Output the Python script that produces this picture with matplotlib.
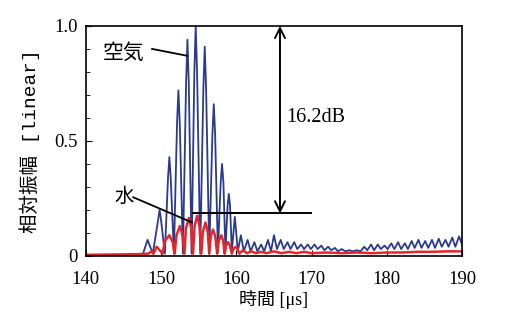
import matplotlib.pyplot as plt
from matplotlib.ticker import MultipleLocator

plt.rcParams['font.family'] = ['Liberation Serif', 'Noto Sans CJK JP']

# 空気 (air) trace: peaks, shoulders and troughs
air_t = [140.0, 146.5, 147.6, 148.2, 148.9, 149.62, 149.8, 149.98, 150.5, 150.92, 151.1,
         151.28, 151.7, 152.12, 152.3, 152.48, 152.9, 153.32, 153.5, 153.68, 154.05,
         154.42, 154.6, 154.78, 155.2, 155.62, 155.8, 155.98, 156.4, 156.82, 157.0,
         157.18, 157.55, 157.92, 158.1, 158.28, 158.55, 158.84, 159.0, 159.16, 159.4,
         159.8, 160.2, 160.6, 161.0, 161.5, 161.9, 162.4, 162.8, 163.3, 163.7,
         164.2, 164.6, 165.0, 165.4, 165.9, 166.3, 166.8, 167.2, 167.7, 168.1, 168.6,
         169.0, 169.5, 169.9, 170.4, 170.8, 171.3, 171.7, 172.2, 172.6, 173.1, 173.5,
         174.0, 174.5, 175.0, 175.5, 176.0, 176.5, 177.0, 177.4, 177.9, 178.3, 178.8,
         179.2, 179.7, 180.1, 180.6, 181.0, 181.5, 181.9, 182.4, 182.8, 183.3, 183.7,
         184.2, 184.6, 185.1, 185.5, 186.0, 186.4, 186.9, 187.3, 187.8, 188.2, 188.7,
         189.1, 189.6, 190.0]
air_v = [0.0, 0.005, 0.01, 0.07, 0.01, 0.16, 0.20, 0.16, 0.01, 0.34, 0.43,
         0.34, 0.01, 0.58, 0.72, 0.58, 0.01, 0.75, 0.94, 0.75, 0.01,
         0.80, 1.0, 0.80, 0.01, 0.73, 0.91, 0.73, 0.01, 0.53, 0.66,
         0.53, 0.015, 0.32, 0.40, 0.32, 0.02, 0.22, 0.27, 0.22, 0.02,
         0.17, 0.02, 0.09, 0.02, 0.07, 0.02, 0.06, 0.02, 0.05, 0.02,
         0.07, 0.02, 0.09, 0.03, 0.07, 0.03, 0.06, 0.03, 0.06, 0.03, 0.05,
         0.03, 0.05, 0.03, 0.05, 0.03, 0.045, 0.025, 0.04, 0.025, 0.035, 0.02,
         0.03, 0.02, 0.025, 0.02, 0.025, 0.02, 0.04, 0.025, 0.05, 0.025, 0.05,
         0.03, 0.045, 0.03, 0.055, 0.03, 0.06, 0.03, 0.055, 0.03, 0.065, 0.035,
         0.07, 0.035, 0.065, 0.035, 0.07, 0.035, 0.075, 0.04, 0.07, 0.04, 0.08,
         0.04, 0.085, 0.05]

# 水 (water) trace
water_t = [140.0, 147.0, 148.3, 148.7, 149.0, 149.4, 150.2, 150.5, 151.1, 151.55, 151.8,
           152.05, 152.5, 152.85, 153.1, 153.3, 153.7, 154.0, 154.25, 154.45, 154.8,
           155.1, 155.35, 155.55, 155.9, 156.2, 156.4, 156.6, 156.9, 157.2, 157.45,
           157.65, 158.0, 158.25, 158.45, 158.6, 158.9, 159.15, 159.4, 159.6, 159.9,
           160.15, 160.4, 160.9, 161.4, 162.0, 162.6, 163.3, 164.0, 165.0, 166.0, 167.0,
           168.0, 169.0, 170.0, 172.0, 174.0, 176.0, 178.0, 180.0, 182.0, 184.0, 186.0,
           188.0, 190.0]
water_v = [0.005, 0.008, 0.01, 0.02, 0.01, 0.04, 0.01, 0.065, 0.09, 0.06, 0.01,
           0.09, 0.13, 0.09, 0.01, 0.12, 0.165, 0.12, 0.01, 0.13, 0.175,
           0.13, 0.01, 0.105, 0.145, 0.105, 0.01, 0.085, 0.115, 0.085, 0.01,
           0.065, 0.09, 0.065, 0.01, 0.045, 0.06, 0.045, 0.01, 0.03, 0.04,
           0.03, 0.01, 0.025, 0.012, 0.02, 0.012, 0.018, 0.012, 0.02, 0.012, 0.018,
           0.012, 0.018, 0.012, 0.015, 0.012, 0.015, 0.012, 0.015, 0.015, 0.018, 0.018,
           0.02, 0.02]

fig = plt.figure(figsize=(5.05, 3.24), dpi=100)
ax = fig.add_axes([0.17, 0.21, 0.745, 0.71])

ax.plot(air_t, air_v, color='#2b3a8c', lw=1.3)
ax.plot(water_t, water_v, color='#e4262c', lw=1.8)

ax.set_xlim(140, 190)
ax.set_ylim(0, 1.0)
ax.xaxis.set_major_locator(MultipleLocator(10))
ax.set_yticks([0, 0.5, 1.0])
ax.set_yticklabels(['0', '0.5', '1.0'])
ax.yaxis.set_minor_locator(MultipleLocator(0.1))
ax.tick_params(direction='in', labelsize=13.5, length=4)
ax.tick_params(axis='x', pad=11)
ax.tick_params(axis='y', pad=6)
ax.tick_params(which='minor', direction='in', length=3)
for s in ax.spines.values():
    s.set_linewidth(1.2)

ax.set_xlabel('時間 [μs]', fontsize=13, labelpad=1,
              family=['Liberation Serif', 'Noto Sans CJK JP'])
ax.set_ylabel('相対振幅 [linear]', fontsize=14, labelpad=10,
              family=['Liberation Mono', 'Noto Sans CJK JP'])

# 16.2dB annotation
ax.plot([154.2, 169.9], [0.185, 0.185], color='k', lw=1.4)
ax.annotate('', xy=(165.8, 0.185), xytext=(165.8, 1.0),
            arrowprops=dict(arrowstyle='<->', lw=1.4, color='k', mutation_scale=18,
                            shrinkA=0, shrinkB=0))
ax.text(166.6, 0.60, '16.2dB', fontsize=14.5, va='center', ha='left')

# labels with leader lines
ax.text(145.0, 0.885, '空気', fontsize=15, ha='center', va='center',
        family='Noto Sans CJK JP')
ax.plot([148.8, 153.5], [0.90, 0.87], color='k', lw=1.3)
ax.text(145.1, 0.26, '水', fontsize=14, ha='center', va='center',
        family='Noto Sans CJK JP')
ax.plot([146.3, 154.1], [0.255, 0.146], color='k', lw=1.3)

fig.savefig('out.png', dpi=100)
